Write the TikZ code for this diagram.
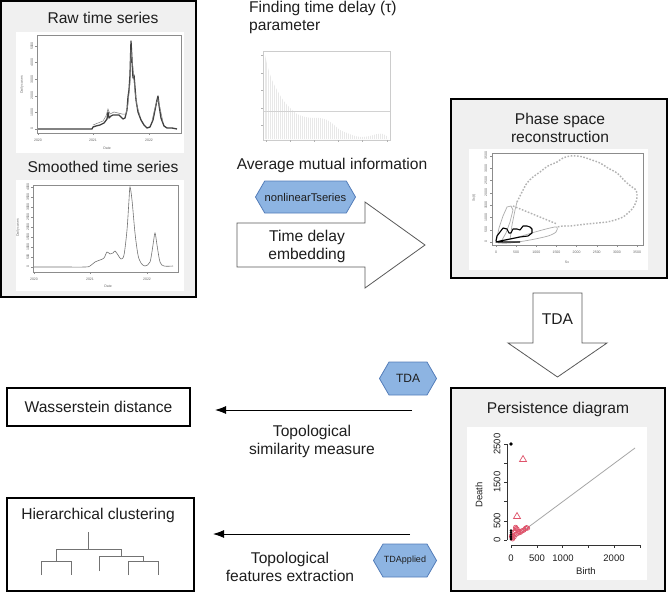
\documentclass[tikz,border=0pt]{standalone}
\usepackage{fontspec}
\setmainfont{Liberation Sans}
\usetikzlibrary{shapes.symbols,arrows.meta}

\definecolor{panelgray}{RGB}{240,240,240}
\definecolor{hexfill}{RGB}{141,180,226}
\definecolor{hexline}{RGB}{84,125,185}
\definecolor{pdred}{RGB}{223,83,107}
\definecolor{txtgray}{RGB}{30,30,30}

\newcommand{\bigtxt}{\fontsize{15.6}{18}\selectfont}
\newcommand{\tinytxt}{\fontsize{3.5}{4}\selectfont}
\newcommand{\axtxt}{\fontsize{9.5}{11}\selectfont}

\begin{document}
\begin{tikzpicture}[x=1pt, y=-1pt,
  every node/.style={inner sep=0pt, text=txtgray},
  panel/.style={draw=black, line width=1.6pt, fill=panelgray},
  box/.style={draw=black, line width=1.6pt, fill=white, font=\bigtxt},
  txt/.style={font=\bigtxt, align=center},
  hexa/.style={signal, signal to=east and west, signal pointer angle=120,
    fill=hexfill, draw=hexline, line width=0.8pt, inner ysep=0pt},
  bigarrow/.style={draw=black!65, line width=0.8pt, fill=white},
  flow/.style={-{Latex[length=11pt,width=8pt]}, line width=0.9pt},
  ticklbl/.style={font=\tinytxt, text=black!60},
  plotframe/.style={draw=black!45, line width=0.35pt},
  dendro/.style={draw=black!55, line width=0.9pt}]
\useasboundingbox (0,0) rectangle (669,592);

% raw and smoothed series
\node[panel, minimum width=195pt, minimum height=296pt] (rawp) at (98.5,149) {};
\node[txt] (rawt) at (103,18) {Raw time series};
\fill[white] (16,32) rectangle (184,153);
\draw[plotframe] (37,35) rectangle (181,133);
\foreach \val [count=\i from 0] in {0,1000,2000,3000,4000,5000}{
  \draw[plotframe] (37,{129-16.6*\i}) -- ++(-2,0);
  \node[ticklbl, rotate=90] at (32,{129-16.6*\i}) {\val};
}
\foreach \x/\t in {38/2020,93/2021,149/2022}{
  \draw[plotframe] (\x,133) -- ++(0,2);
  \node[ticklbl] at (\x,140) {\t};
}
\node[ticklbl] at (107,148) {Date};
\node[ticklbl, rotate=90] at (22,85) {Daily cases};
\draw[black!75, line width=1.3pt, line join=round] plot coordinates {(38,129) (60,129) (80,129) (92,129) (93,127) (96,126) (100,125) (104,123) (107,119) (108,112) (109,118) (111,116) (113,115) (116,115) (119,115) (121,117) (123,119) (125,118) (127,110) (128,97) (129,90) (130,75) (131,41) (132,60) (133,78) (134,75) (136,100) (138,112) (141,120) (144,125) (147,128) (150,127) (153,120) (155,110) (157,100) (158,96) (159,105) (161,118) (164,126) (167,128) (172,128) (177,129)};
\draw[black!50, line width=0.5pt] plot coordinates {(93,125) (98,123) (103,121) (106,116) (108,109) (110,114) (114,112) (118,113) (122,114) (126,114) (128,104) (130,83) (131,50) (133,68) (135,92) (137,106) (140,116)};
\draw[black!50, line width=0.5pt] plot coordinates {(152,121) (154,112) (156,104) (158,99) (160,108) (163,122)};

\node[txt] (smt) at (103,167) {Smoothed time series};
\fill[white] (16,180) rectangle (184,291);
\draw[plotframe] (33,185) rectangle (178,272);
\foreach \val [count=\i from 0] in {0,500,1000,1500,2000,2500,3000,3500,4000}{
  \draw[plotframe] (33,{267-10*\i}) -- ++(-2,0);
  \node[ticklbl, rotate=90] at (28,{267-10*\i}) {\val};
}
\foreach \x/\t in {34/2020,90/2021,147/2022}{
  \draw[plotframe] (\x,272) -- ++(0,2);
  \node[ticklbl] at (\x,279) {\t};
}
\node[ticklbl] at (108,286) {Date};
\node[ticklbl, rotate=90] at (18,228) {Daily cases};
\draw[black!55, line width=0.6pt] plot[smooth, tension=0.5] coordinates {(34,267) (60,267) (85,267) (90,266) (95,262) (100,260) (104,258) (107,252) (110,254) (113,253) (115,251) (118,255) (121,259) (124,255) (127,230) (129,200) (130,187) (132,200) (135,233) (138,255) (141,263) (145,266) (150,262) (153,245) (155,233) (157,245) (160,262) (164,266) (173,266)};

% time delay
\node[font=\bigtxt, align=left, anchor=north west] (taut) at (249,1) {Finding time delay (τ)\\parameter};
\fill[white] (258,50) rectangle (393,145);
\fill[gray!18] (265,139) -- plot[smooth, tension=0.5] coordinates {(265,55) (268,68) (272,80) (277,90) (283,100) (290,108) (297,114) (305,117) (313,118) (320,118) (327,120) (333,124) (340,130) (347,133) (355,136) (362,137) (370,136) (377,134) (383,134) (388,137)} -- (388,139) -- cycle;
\foreach \x in {267,269,...,387} \draw[white, line width=0.25pt] (\x,54) -- (\x,139);
\draw[gray!35, line width=0.4pt] (263,111) -- (390,111);
\draw[plotframe, draw=black!20] (263,51) rectangle (390,140);
\foreach \y in {55,73,90,108,125} \draw[black!30] (263,\y) -- ++(-2,0);
\foreach \x in {266,290,314,338,362,387} \draw[black!30] (\x,140) -- ++(0,2);
\node[txt] (amit) at (332,165) {Average mutual information};
\node[hexa, font=\fontsize{11.2}{13}\selectfont, minimum height=32pt, inner xsep=0pt] (nlts) at (305.5,197) {nonlinearTseries};
\draw[bigarrow] (237,223) -- (365,223) -- (365,202) -- (425,245) -- (365,288) -- (365,267) -- (237,267) -- cycle;
\node[txt] (tde) at (307,246) {Time delay\\embedding};

% phase space
\node[panel, minimum width=216pt, minimum height=179pt] (phase) at (559,188.5) {};
\node[txt] (phaset) at (560,128) {Phase space\\reconstruction};
\fill[white] (469,149) rectangle (648,270);
\draw[plotframe] (492,153) rectangle (643,245);
\foreach \val [count=\i from 0] in {0,500,1000,1500,2000,2500,3000,3500}{
  \draw[plotframe] ({496+20.15*\i},245) -- ++(0,2);
  \node[ticklbl] at ({496+20.15*\i},252) {\val};
  \draw[plotframe] (492,{242-12.3*\i}) -- ++(-2,0);
  \node[ticklbl, rotate=90] at (486,{242-12.3*\i}) {\val};
}
\node[ticklbl] at (567,262) {Sx};
\node[ticklbl, rotate=90] at (474,198) {Sx(t)};
\draw[gray!60, line width=1.4pt, dash pattern=on 1.6pt off 1.6pt] plot[smooth] coordinates {(517,202) (522,192) (527,183) (533,177) (540,172) (548,166) (557,162) (563,158) (570,156) (577,156) (583,157) (592,160) (600,163) (608,168) (617,173) (622,178) (627,183) (632,187) (635,189) (637,193) (637,197) (636,202) (633,208) (628,213) (623,217) (615,220) (607,222) (597,223) (587,224) (578,225) (570,226) (563,226) (557,227)};
\draw[gray!60, line width=1.4pt, dash pattern=on 1.6pt off 1.6pt] (513,206) -- (557,224);
\draw[gray!65, line width=0.7pt] plot coordinates {(496,242) (499,228) (503,216) (507,207) (511,206) (513,210) (510,222) (506,233) (502,240)};
\draw[gray!65, line width=0.7pt] plot coordinates {(510,240) (512,225) (515,210) (517,202)};
\draw[gray!65, line width=0.7pt] plot[smooth] coordinates {(498,242) (515,238) (535,232) (550,228) (557,227) (556,232) (548,236) (530,240) (510,243) (498,243)};
\draw[black, line width=1.1pt, line join=round] plot coordinates {(496,241) (497,236) (500,232) (503,228) (507,229) (509,233) (511,233) (513,229) (517,229) (520,230) (523,226) (527,226) (530,227) (532,229) (532,233) (528,236) (520,237) (510,239) (500,241) (496,242) (520,242)};

% TDA step
\draw[bigarrow] (533,293) -- (582,293) -- (582,343) -- (607,343) -- (557.5,377) -- (508,343) -- (533,343) -- cycle;
\node[txt] (tdat) at (557.5,319) {TDA};

% persistence diagram
\node[panel, minimum width=214pt, minimum height=203pt] (pers) at (558,489.5) {};
\node[txt] (perst) at (558,409) {Persistence diagram};
\fill[white] (467,427) rectangle (647,580);
\draw[black!80, line width=0.5pt] (507,444) -- (507,540);
\foreach \i in {0,...,5} \draw[black!80, line width=0.5pt] (507,{540-19.2*\i}) -- ++(-3,0);
\foreach \val/\y in {0/540,500/521,1500/482,2500/444} \node[font=\axtxt, rotate=90] at (497,\y) {\val};
\draw[black!80, line width=0.5pt] (511,545) -- (640,545);
\foreach \i in {0,...,5} \draw[black!80, line width=0.5pt] ({511+25.8*\i},545) -- ++(0,3);
\foreach \val/\x in {0/511,500/537,1000/563,2000/614} \node[font=\axtxt] at (\x,558) {\val};
\node[font=\axtxt, rotate=90] at (479,495) {Death};
\node[font=\axtxt] at (586,571) {Birth};
\draw[gray!70, line width=0.8pt] (511,540) -- (635,448);
\foreach \b/\d in {20/60,40/120,60/200,80/250,100/300,120/280,150/220,180/200,220/240,250/260,280/300,300/320,320/310,60/80,100/150,140/180,30/30,10/100,200/230,90/330}
  \draw[pdred, line width=0.7pt] ({511+0.0516*\b},{540-0.0384*\d}) circle (2.2pt);
\foreach \d in {20,50,100,150,200,250} \fill[black] (511,{540-0.0384*\d}) circle (1.4pt);
\fill[black] (511,444) circle (1.8pt);
\foreach \x/\y in {523/459,517/516} \draw[pdred, line width=0.7pt] (\x,\y-3.5) -- (\x+3.5,\y+2.5) -- (\x-3.5,\y+2.5) -- cycle;

% outputs
\node[hexa, font=\fontsize{12}{14}\selectfont, minimum height=33pt, inner xsep=7pt] (tdah) at (408,378.5) {TDA};
\coordinate (f1) at (412,410);
\coordinate (t1) at (215,410);
\draw[flow] (f1) -- (t1);
\node[txt] (simt) at (312,441) {Topological\\similarity measure};
\node[box, minimum width=183pt, minimum height=38pt] (wass) at (98.5,407) {Wasserstein distance};

\coordinate (f2) at (410,534);
\coordinate (t2) at (213,534);
\draw[flow] (f2) -- (t2);
\node[txt] (featt) at (290,567) {Topological\\features extraction};
\node[hexa, font=\fontsize{9}{11}\selectfont, minimum height=33pt, inner xsep=1pt] (tdap) at (405,560.5) {TDApplied};
\node[box, minimum width=187pt, minimum height=93pt] (hier) at (100.5,544.5) {};
\node[txt] (hiert) at (98,515) {Hierarchical clustering};
\draw[dendro] (88,532) -- (88,549);
\draw[dendro] (41,575) |- (71,561) -- (71,575);
\draw[dendro] (56,561) |- (121,549) -- (121,556);
\draw[dendro] (99,571) |- (143,556) -- (143,561);
\draw[dendro] (128,575) |- (158,561) -- (158,575);
\end{tikzpicture}
\end{document}
